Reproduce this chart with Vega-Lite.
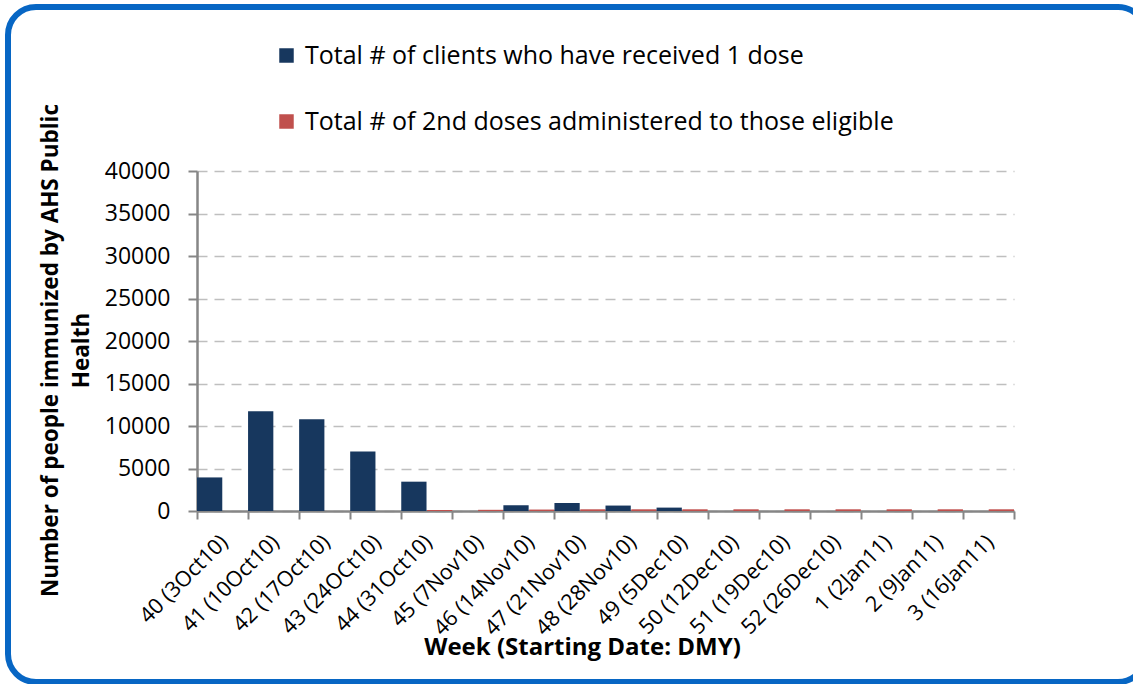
{
  "$schema": "https://vega.github.io/schema/vega-lite/v6.json",
  "width": 1138,
  "height": 675,
  "autosize": {"type": "none"},
  "padding": {"left": 8, "top": 7, "right": -13, "bottom": 2},
  "background": "white",
  "config": {
    "view": {"stroke": "#0766C4", "strokeWidth": 6, "cornerRadius": 28, "fill": "white"},
    "font": "Open Sans"
  },
  "data": {
    "values": [
      {"week": "40 (3Oct10)", "series": "Total # of clients who have received 1 dose", "count": 3950},
      {"week": "40 (3Oct10)", "series": "Total # of 2nd doses administered to those eligible", "count": 0},
      {"week": "41 (10Oct10)", "series": "Total # of clients who have received 1 dose", "count": 11750},
      {"week": "41 (10Oct10)", "series": "Total # of 2nd doses administered to those eligible", "count": 0},
      {"week": "42 (17Oct10)", "series": "Total # of clients who have received 1 dose", "count": 10800},
      {"week": "42 (17Oct10)", "series": "Total # of 2nd doses administered to those eligible", "count": 0},
      {"week": "43 (24OCt10)", "series": "Total # of clients who have received 1 dose", "count": 7000},
      {"week": "43 (24OCt10)", "series": "Total # of 2nd doses administered to those eligible", "count": 0},
      {"week": "44 (31Oct10)", "series": "Total # of clients who have received 1 dose", "count": 3450},
      {"week": "44 (31Oct10)", "series": "Total # of 2nd doses administered to those eligible", "count": 120},
      {"week": "45 (7Nov10)", "series": "Total # of clients who have received 1 dose", "count": 0},
      {"week": "45 (7Nov10)", "series": "Total # of 2nd doses administered to those eligible", "count": 140},
      {"week": "46 (14Nov10)", "series": "Total # of clients who have received 1 dose", "count": 670},
      {"week": "46 (14Nov10)", "series": "Total # of 2nd doses administered to those eligible", "count": 170},
      {"week": "47 (21Nov10)", "series": "Total # of clients who have received 1 dose", "count": 940},
      {"week": "47 (21Nov10)", "series": "Total # of 2nd doses administered to those eligible", "count": 200},
      {"week": "48 (28Nov10)", "series": "Total # of clients who have received 1 dose", "count": 640},
      {"week": "48 (28Nov10)", "series": "Total # of 2nd doses administered to those eligible", "count": 200},
      {"week": "49 (5Dec10)", "series": "Total # of clients who have received 1 dose", "count": 400},
      {"week": "49 (5Dec10)", "series": "Total # of 2nd doses administered to those eligible", "count": 200},
      {"week": "50 (12Dec10)", "series": "Total # of clients who have received 1 dose", "count": 0},
      {"week": "50 (12Dec10)", "series": "Total # of 2nd doses administered to those eligible", "count": 200},
      {"week": "51 (19Dec10)", "series": "Total # of clients who have received 1 dose", "count": 0},
      {"week": "51 (19Dec10)", "series": "Total # of 2nd doses administered to those eligible", "count": 200},
      {"week": "52 (26Dec10)", "series": "Total # of clients who have received 1 dose", "count": 0},
      {"week": "52 (26Dec10)", "series": "Total # of 2nd doses administered to those eligible", "count": 200},
      {"week": "1 (2Jan11)", "series": "Total # of clients who have received 1 dose", "count": 0},
      {"week": "1 (2Jan11)", "series": "Total # of 2nd doses administered to those eligible", "count": 200},
      {"week": "2 (9Jan11)", "series": "Total # of clients who have received 1 dose", "count": 0},
      {"week": "2 (9Jan11)", "series": "Total # of 2nd doses administered to those eligible", "count": 200},
      {"week": "3 (16Jan11)", "series": "Total # of clients who have received 1 dose", "count": 0},
      {"week": "3 (16Jan11)", "series": "Total # of 2nd doses administered to those eligible", "count": 200}
    ]
  },
  "mark": {"type": "bar"},
  "encoding": {
    "x": {
      "field": "week",
      "type": "nominal",
      "sort": null,
      "scale": {"range": [189, 1006], "paddingInner": 0, "paddingOuter": 0},
      "axis": {
        "title": "Week (Starting Date: DMY)",
        "offset": -171,
        "labelAngle": -45,
        "labelFontSize": 21.5,
        "labelPadding": 12,
        "labelOffset": -6,
        "labelColor": "#000000",
        "tickBand": "extent",
        "tickSize": 8,
        "tickColor": "#868686",
        "tickWidth": 2,
        "domainColor": "#868686",
        "domainWidth": 2.5,
        "grid": false,
        "titleFontSize": 24,
        "titleFontWeight": "bold",
        "titleColor": "#000000",
        "titleX": 574,
        "titleY": 143,
        "titleBaseline": "alphabetic",
        "titleAnchor": null
      }
    },
    "xOffset": {
      "field": "series",
      "type": "nominal",
      "sort": ["Total # of clients who have received 1 dose", "Total # of 2nd doses administered to those eligible"],
      "scale": {"paddingInner": 0.02, "paddingOuter": 0}
    },
    "y": {
      "field": "count",
      "type": "quantitative",
      "scale": {"domain": [0, 40000], "range": [504, 164], "nice": false},
      "axis": {
        "title": ["Number of people immunized by AHS Public", "Health"],
        "offset": -189,
        "values": [0, 5000, 10000, 15000, 20000, 25000, 30000, 35000, 40000],
        "format": "d",
        "grid": true,
        "gridDash": [10, 7],
        "gridColor": "#BFBFBF",
        "gridWidth": 1.5,
        "domainColor": "#868686",
        "domainWidth": 2.5,
        "tickColor": "#868686",
        "tickWidth": 2,
        "tickSize": 9,
        "labelFontSize": 23,
        "labelPadding": 18,
        "labelColor": "#000000",
        "titleFontSize": 22.5,
        "titleFontWeight": "bold",
        "titleColor": "#000000",
        "titleX": -158,
        "titleY": 343,
        "titleBaseline": "top",
        "titleLineHeight": 31
      }
    },
    "color": {
      "field": "series",
      "type": "nominal",
      "scale": {
        "domain": ["Total # of clients who have received 1 dose", "Total # of 2nd doses administered to those eligible"],
        "range": ["#17375E", "#C0504D"]
      },
      "legend": {
        "orient": "none",
        "legendX": 266,
        "legendY": 36,
        "title": null,
        "labelFontSize": 25,
        "labelColor": "#000000",
        "labelLimit": 900,
        "symbolType": "square",
        "symbolSize": 210,
        "symbolStrokeWidth": 0,
        "labelOffset": 6,
        "rowPadding": 40
      }
    }
  }
}
